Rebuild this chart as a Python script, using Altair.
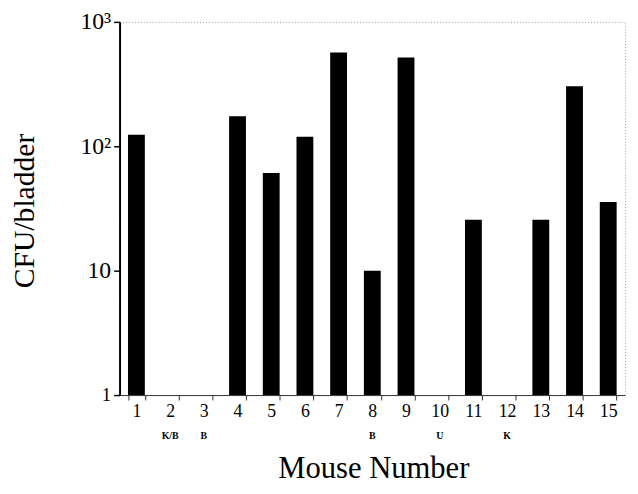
import altair as alt
import pandas as pd

mice = [str(i) for i in range(1, 16)]
cfu = [124, None, None, 174, 61, 119, 566, 10, 517, None, 25.7, None, 25.7, 304, 35.7]
notes = ["", "K/B", "B", "", "", "", "", "B", "", "U", "", "K", "", "", ""]

df = pd.DataFrame({"mouse": mice, "cfu": cfu, "note": notes})

serif = "Liberation Serif"

x_enc = alt.X(
    "mouse:N",
    sort=mice,
    scale=alt.Scale(domain=mice, paddingInner=0.5, paddingOuter=0.25),
    axis=alt.Axis(
        title="Mouse Number",
        labelAngle=0,
        tickBand="extent",
        tickSize=5,
        labelPadding=3,
        labelFont=serif,
        labelFontSize=18,
        labelColor="black",
        domainColor="#333",
        tickColor="#333",
        titleFont=serif,
        titleFontSize=31,
        titleFontWeight="normal",
        titleColor="black",
        titleX=257,
        titleY=83,
        titleBaseline="alphabetic",
        titleAlign="center",
    ),
)

bars = alt.Chart(df).mark_bar(color="black").encode(
    x=x_enc,
    y=alt.Y(
        "cfu:Q",
        scale=alt.Scale(type="log", domain=[1, 1000]),
        axis=alt.Axis(
            title="CFU/bladder",
            values=[1, 10, 100, 1000],
            labelExpr="datum.value == 1000 ? '10³' : datum.value == 100 ? '10²' : datum.value == 10 ? '10' : '1'",
            labelFont=serif,
            labelFontSize={"condition": {"test": "datum.value == 1", "value": 19}, "value": 24},
            labelColor="black",
            labelPadding=3,
            tickSize=6,
            tickWidth=1.5,
            tickColor="black",
            domainColor="black",
            domainWidth=2,
            grid=False,
            titleFont=serif,
            titleFontSize=30,
            titleFontWeight="normal",
            titleColor="black",
            titleAngle=-90,
            titleX=-87,
            titleY=191,
            titleAlign="center",
            titleBaseline="alphabetic",
        ),
    ),
    y2=alt.datum(1),
)

text = alt.Chart(df).mark_text(
    font=serif, fontSize=10, fontWeight="bold", color="black", baseline="middle"
).encode(
    x=x_enc,
    y=alt.value(419),
    text="note:N",
)

chart = (
    alt.layer(bars, text)
    .properties(
        width=512,
        height=378,
        autosize=alt.AutoSizeParams(type="none"),
        padding={"left": 113, "top": 11, "right": 5, "bottom": 84},
    )
    .configure_view(stroke="#999", strokeDash=[1, 2], strokeWidth=1)
    .configure_axis(grid=False)
)

chart.save("out.html", embed_options={"renderer": "svg", "actions": False})
